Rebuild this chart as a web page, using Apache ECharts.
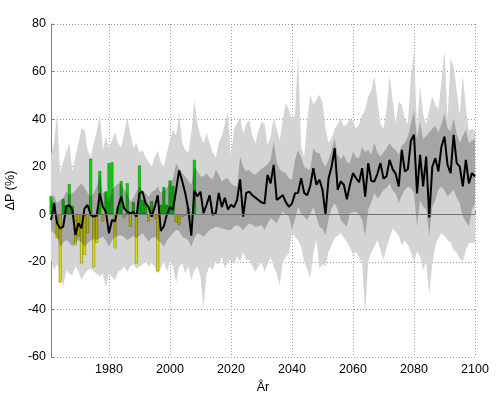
<!DOCTYPE html>
<html>
<head>
<meta charset="utf-8">
<script src="https://cdn.jsdelivr.net/npm/echarts@6/dist/echarts.min.js"></script>
<style>html,body{margin:0;padding:0;background:#fff}#c{width:497px;height:394px}</style>
</head>
<body>
<div id="c"></div>
<script>
const firstYear = 1961, lastYear = 2100;
const labelYears = [1980, 2000, 2020, 2040, 2060, 2080, 2100];
const yTicks = { min: -60, max: 80, step: 20 };

// Ensemble mean (black line), 1961..2100
const meanLine = [
 -2.4, 4.5, -3.8, -5.9, -5.2, 3.2, 3.9, 1.8, -8.7, -3.8,
 -5.9, 2.5, 3.9, -0.3, -1, -0.5, 8.8, 3.2, 1.1, -8,
 -2.4, -3, 3.2, 7.4, 2.5, 1.1, 0.4, 1, -1, 8.8,
 9.5, 4.6, 3, -1, 3, 8, -7, -5, 0, 3,
 2, 10, 18.5, 14, 9, 2, -9, 10, 7.5, 9.5,
 0.5, 4, 8, -0.3, 0.5, 9, 3, 7, 2, 4,
 3, 6, 14.7, -1, 9, 9.5, 8, 7, 6, 5,
 4.5, 16.6, 13, 20.8, 6, 7, 8.1, 5, 3.2, 4.5,
 8.8, 9, 15.2, 9, 8, 12, 19.4, 12.4, 14.5, 10.3,
 0, 15.2, 20, 27.8, 10.3, 13.8, 12.4, 6.3, 12.4, 17.3,
 15.2, 13.5, 19.4, 7.4, 21.5, 14, 13.8, 17, 21.5, 15,
 16, 22.9, 19, 17, 11.7, 27.1, 18, 19, 31, 33.4,
 8.8, 25, 11.7, 24.3, -1.3, 20, 23.6, 18, 28.5, 32.7,
 20.8, 17.3, 33.4, 21.5, 20, 11.7, 22.9, 13, 17.3, 15.9
];

// Observed anomalies (bars), 1961..2008
const obsBars = [
 7.7, 5, -10, -28.7, 6.3, 3.8, 12.7, 3.5, -13, -9.4,
 -20.6, -17, -8, 23.3, -22.3, -12, 18.2, -3, 9.6, 21.5,
 21.8, -14.3, 3, 13.9, -1.5, 13, -5.2, 5, -20.6, 20.5,
 6, 5, -3, 5.5, -2, -24, 4, 11.4, 4, 14.2,
 11.8, -3.4, -4.5, -1, -0.5, 2.5, -1, 22.9
];

// Outer (light grey) band
const outerUpper = [
 25, 30, 42.5, 17.5, 22, 26, 30, 18, 24, 30,
 36, 35.5, 27, 24, 30, 35, 42, 27, 32.6, 28,
 31, 34.6, 30, 28, 34, 40.8, 34, 28, 30, 26,
 27, 24, 22, 20, 24, 26.6, 22, 20, 26, 31,
 35.5, 33, 42.5, 30, 27, 26, 34, 47.9, 38, 33,
 30, 34, 30, 26, 24, 30, 33, 38, 43, 24,
 36, 38, 41, 34, 38, 39.6, 33, 30, 35, 38.9,
 38, 29, 33, 40.3, 36, 31, 40, 46.8, 44, 40,
 42, 68, 28.5, 24, 40, 50.3, 46, 48, 50.3, 47,
 36, 30, 32, 36, 38, 40.3, 37, 38, 40.3, 39,
 36, 38, 41.7, 44, 49.6, 52, 58, 48, 38, 36,
 44, 58, 48, 38, 47.4, 46, 40, 38, 58, 69,
 36, 54.4, 42, 38, 44, 49.6, 46, 44, 56, 69,
 40, 65.6, 62, 52, 42, 58.4, 45, 35, 36, 35
];
const outerLower = [
 -19, -23.5, -21, -24, -30.5, -23.5, -25, -25.5, -22, -24,
 -27.7, -25, -23.5, -22.8, -24, -25, -26, -25, -30.5, -25,
 -26.3, -27.7, -24, -23.5, -22, -24.2, -22, -21, -23, -22,
 -21, -19.9, -22, -20.6, -22, -24.9, -22.8, -20, -24.2, -20,
 -22, -29, -22, -20.6, -24.9, -22, -27.7, -23.5, -22, -26,
 -39.6, -24.9, -22, -23.5, -20, -21.3, -18, -22.8, -20, -19.2,
 -21, -17.8, -20, -16, -19.2, -19.2, -22, -24.2, -22, -20,
 -24.2, -21, -18, -22, -25, -29.8, -20, -18, -16.4, -8,
 -9.4, -11, -13.6, -20, -23, -27, -16.4, -10.8, -22.8, -21,
 -22, -15.7, -13, -10, -9, -8, -10, -11.5, -14, -17.1,
 -15.7, -18, -20.6, -41.7, -20, -16, -13.6, -10.8, -15, -19.2,
 -14, -10.1, -6, -7.3, -9, -12.9, -11, -12.9, -16, -20,
 -15.7, -17.8, -23.5, -20, -34, -20.6, -12.9, -10, -8, -9,
 -10.8, -12, -15, -16, -18.5, -20, -15, -12.2, -12, -12
];

// Inner (dark grey) band
const innerUpper = [
 6, 8, 4.6, 6, 7, 9.5, 8, 8.8, 10, 11.7,
 13, 11, 9, 7.4, 9, 11.7, 16.6, 8.8, 9.5, 5,
 10.3, 11.7, 13, 12.4, 10.3, 8.8, 5.3, 7, 9.5, 11.7,
 10, 8.8, 7.4, 9.5, 10, 11.7, 9, 10.3, 11, 13,
 15, 21.5, 19, 17.3, 15.9, 14, 12.4, 20, 18, 15.9,
 16, 17.3, 15.5, 14.5, 18.7, 16.6, 13.8, 15, 15.2, 13,
 12, 11.7, 24.3, 20, 18, 18.7, 17, 16.6, 18, 19,
 20, 21, 23, 30.6, 22, 18.7, 18, 17.3, 15, 14.5,
 23, 27, 24, 20, 19, 18.7, 27.8, 26, 25.7, 22,
 20, 23, 27, 32, 25, 23, 25, 22, 21.5, 26.4,
 24, 23.6, 28.5, 26, 27.1, 25, 30, 26, 24.3, 26,
 27.8, 30, 28, 27.1, 25, 29, 30, 32.7, 38, 44,
 31.5, 39, 31.5, 33, 34.4, 36, 37.1, 34.4, 38, 42.5,
 36, 34.8, 40.4, 34, 30, 33, 35.5, 30, 31, 31.5
];
const innerLower = [
 -6.6, -8, -9.4, -13.6, -12, -10.8, -12, -13.6, -12, -10.8,
 -12, -13.6, -12.2, -11, -10.5, -10.8, -10, -9.4, -11, -13.6,
 -11, -9.4, -9, -8.7, -9.5, -10.8, -10, -9, -10.1, -9,
 -8, -9.5, -11.5, -10, -9.4, -10.8, -12, -13.6, -11, -9.4,
 -8, -6.6, -7, -9.4, -10, -11, -13.6, -10, -8, -8.5,
 -9.4, -8, -6.6, -6, -5.2, -5.5, -6, -6.3, -6.6, -6.6,
 -5, -4.5, -5.5, -6.6, -5, -3.8, -4.5, -5.2, -5, -4.5,
 -6.6, -4, -1.7, -2.5, -3.8, -1, 1.1, 0, -1, -6.6,
 -2, 3.2, 0.4, -1, -2.4, 0, 3.2, -1, -5.2, -6,
 -8.8, -2, 2.5, 4.6, 2, -2.4, -4, -5.2, 0.4, 1,
 1.1, 0, -2.4, -9.4, 2, 5, 9, 6.7, 8, 10.3,
 11, 13, 10, 8.8, 4.6, 8, 10.3, 11.7, 11, 9,
 -5.2, 6, 3.2, 2, -9.4, 3, 6, 10.3, 11.7, 10,
 7.4, 9, 10.3, 7, 4.6, -1, -3, -5.2, 1.8, 4.6
];

const years = [];
for (let y = firstYear; y <= lastYear; y++) years.push(String(y));

const barData = years.map((y, i) => {
  if (i >= obsBars.length) return '-';
  const v = obsBars[i];
  return {
    value: v,
    itemStyle: v >= 0
      ? { color: '#00e000', borderColor: '#007000', borderWidth: 0.5 }
      : { color: '#e0e000', borderColor: '#767600', borderWidth: 0.5 }
  };
});
const outerWidth = outerUpper.map((v, i) => +(v - outerLower[i]).toFixed(2));
const innerWidth = innerUpper.map((v, i) => +(v - innerLower[i]).toFixed(2));

const showYear = (i, v) => labelYears.indexOf(+v) >= 0;
const font = 'Liberation Sans, Arial, Helvetica, sans-serif';

const chart = echarts.init(document.getElementById('c'), null, { renderer: 'canvas' });
chart.setOption({
  animation: false,
  backgroundColor: '#ffffff',
  grid: { left: 51, right: 22, top: 24, bottom: 37, containLabel: false, outerBoundsMode: 'none' },
  xAxis: {
    type: 'category',
    data: years,
    boundaryGap: false,
    name: 'År',
    nameLocation: 'middle',
    nameGap: 19,
    nameTextStyle: { color: '#000', fontSize: 12.5, fontFamily: font },
    axisLine: { show: true, lineStyle: { color: '#808080', width: 1 } },
    axisTick: { show: true, inside: true, length: 3, interval: showYear, lineStyle: { color: '#808080' } },
    axisLabel: { interval: showYear, color: '#000', fontSize: 12.5, fontFamily: font, margin: 6 },
    splitLine: { show: true, interval: showYear, lineStyle: { color: '#9a9a9a', type: [1, 2], width: 1 } }
  },
  yAxis: {
    type: 'value',
    min: yTicks.min, max: yTicks.max, interval: yTicks.step,
    name: 'ΔP (%)',
    nameLocation: 'middle',
    nameGap: 23,
    nameTextStyle: { color: '#000', fontSize: 12.5, fontFamily: font },
    axisLine: { show: true, lineStyle: { color: '#808080', width: 1 } },
    axisTick: { show: true, inside: true, length: 3, lineStyle: { color: '#808080' } },
    axisLabel: { color: '#000', fontSize: 12.5, fontFamily: font, margin: 5 },
    splitLine: { show: true, lineStyle: { color: '#9a9a9a', type: [1, 2], width: 1 } }
  },
  series: [
    { type: 'line', z: 1, stack: 'outer', stackStrategy: 'all', data: outerLower, symbol: 'none', silent: true,
      lineStyle: { width: 0, opacity: 0 } },
    { type: 'line', z: 1, stack: 'outer', stackStrategy: 'all', data: outerWidth, symbol: 'none', silent: true,
      lineStyle: { width: 0, opacity: 0 }, areaStyle: { color: '#d4d4d4', opacity: 1 } },
    { type: 'bar', z: 2, data: barData, barWidth: 2.8, silent: true },
    { type: 'line', z: 3, stack: 'inner', stackStrategy: 'all', data: innerLower, symbol: 'none', silent: true,
      lineStyle: { width: 0, opacity: 0 } },
    { type: 'line', z: 3, stack: 'inner', stackStrategy: 'all', data: innerWidth, symbol: 'none', silent: true,
      lineStyle: { width: 0, opacity: 0 }, areaStyle: { color: 'rgba(0,0,0,0.22)', opacity: 1 },
      markLine: { silent: true, symbol: ['none', 'none'], label: { show: false },
        lineStyle: { color: '#747474', type: 'solid', width: 1 }, data: [{ yAxis: 0 }] } },
    { type: 'line', z: 4, data: meanLine, symbol: 'none', silent: true,
      lineStyle: { color: '#000', width: 2 } }
  ]
});
</script>
</body>
</html>
